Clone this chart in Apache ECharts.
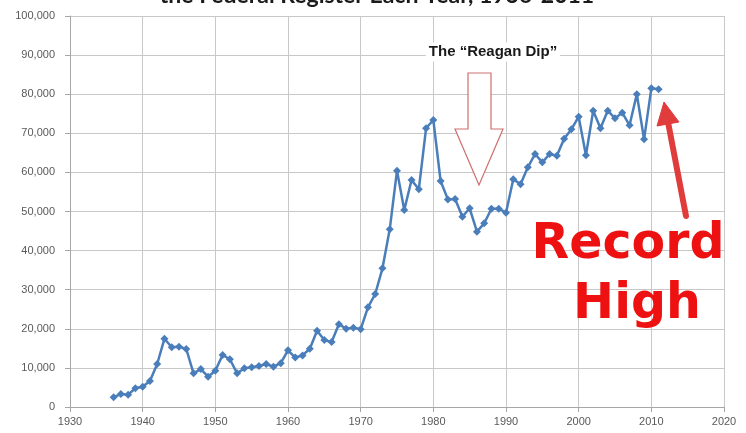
<!DOCTYPE html>
<html>
<head>
<meta charset="utf-8">
<script src="https://cdn.jsdelivr.net/npm/echarts@6/dist/echarts.min.js"></script>
<style>
  html, body { margin: 0; padding: 0; background: #ffffff; }
  #chart { width: 746px; height: 433px; }
</style>
</head>
<body>
<div id="chart"></div>
<script>
// Federal Register pages per year
const years = [
  1936, 1937, 1938, 1939, 1940, 1941, 1942, 1943, 1944, 1945,
  1946, 1947, 1948, 1949, 1950, 1951, 1952, 1953, 1954, 1955,
  1956, 1957, 1958, 1959, 1960, 1961, 1962, 1963, 1964, 1965,
  1966, 1967, 1968, 1969, 1970, 1971, 1972, 1973, 1974, 1975,
  1976, 1977, 1978, 1979, 1980, 1981, 1982, 1983, 1984, 1985,
  1986, 1987, 1988, 1989, 1990, 1991, 1992, 1993, 1994, 1995,
  1996, 1997, 1998, 1999, 2000, 2001, 2002, 2003, 2004, 2005,
  2006, 2007, 2008, 2009, 2010, 2011
];
const pages = [
  2500, 3300, 3150, 4780, 5200, 6650, 11000, 17470, 15270, 15430,
  14830, 8600, 9700, 7750, 9280, 13300, 12200, 8600, 9900, 10150,
  10500, 11000, 10300, 11200, 14500, 12650, 13200, 14900, 19500, 17150,
  16600, 21150, 20030, 20300, 19870, 25500, 28900, 35470, 45450, 60440,
  50380, 58060, 55670, 71280, 73400, 57800, 53100, 53200, 48670, 50820,
  44840, 46980, 50720, 50720, 49700, 58240, 57000, 61300, 64700, 62580,
  64700, 64270, 68620, 71020, 74250, 64370, 75780, 71280, 75780, 73830,
  75270, 72040, 79970, 68460, 81500, 81250
];
const titleText = 'the Federal Register Each Year, 1936-2011';
const dipLabel = 'The \u201cReagan Dip\u201d';
const recordLines = ['Record', 'High'];

const chart = echarts.init(document.getElementById('chart'));

const option = {
  backgroundColor: '#ffffff',
  animation: false,
  grid: { left: 70, right: 22, top: 16, bottom: 26, containLabel: false },
  xAxis: {
    type: 'value',
    min: 1930, max: 2020, interval: 10,
    axisLine: { show: true, lineStyle: { color: '#a6a6a6', width: 1 } },
    axisTick: { show: true, length: 5, lineStyle: { color: '#a6a6a6' } },
    axisLabel: { color: '#595959', fontFamily: 'Liberation Sans', fontSize: 11, margin: 9, formatter: v => String(v) },
    splitLine: { show: true, lineStyle: { color: '#c8c8c8', width: 1 } }
  },
  yAxis: {
    type: 'value',
    min: 0, max: 100000, interval: 10000,
    axisLine: { show: true, lineStyle: { color: '#a6a6a6', width: 1 } },
    axisTick: { show: true, length: 5, lineStyle: { color: '#a6a6a6' } },
    axisLabel: {
      color: '#595959', fontFamily: 'Liberation Sans', fontSize: 11, margin: 15,
      formatter: v => v.toLocaleString('en-US')
    },
    splitLine: { show: true, lineStyle: { color: '#c8c8c8', width: 1 } }
  },
  series: [{
    type: 'line',
    data: years.map((y, i) => [y, pages[i]]),
    symbol: 'diamond',
    symbolSize: 8,
    showAllSymbol: true,
    lineStyle: { color: '#4a7ebb', width: 2.5 },
    itemStyle: { color: '#4a7ebb' },
    z: 5
  }],
  graphic: [
    {
      type: 'text', x: 377, y: 7,
      style: { text: titleText, font: 'bold 23px Lato', fill: '#1a1a1a', align: 'center', verticalAlign: 'bottom' },
      z: 10
    },
    {
      type: 'text', x: 493, y: 52,
      style: {
        text: dipLabel, font: 'bold 15px "Liberation Sans"', fill: '#1a1a1a',
        align: 'center', verticalAlign: 'middle',
        backgroundColor: '#ffffff', padding: [2, 3]
      },
      z: 10
    },
    {
      type: 'polygon',
      shape: { points: [[468, 73], [491, 73], [491, 129], [503, 129], [479, 185], [455, 129], [468, 129]] },
      style: { fill: '#ffffff', stroke: '#cf6f6f', lineWidth: 1.2 },
      z: 3
    },
    {
      type: 'line',
      shape: { x1: 686, y1: 216, x2: 668, y2: 122 },
      style: { stroke: '#e03c3c', lineWidth: 6, lineCap: 'round' },
      z: 10
    },
    {
      type: 'polygon',
      shape: { points: [[664, 102], [679, 122], [657, 126]] },
      style: { fill: '#e03c3c', stroke: '#e03c3c', lineWidth: 1, lineJoin: 'round' },
      z: 10
    },
    {
      type: 'text', x: 628, y: 245,
      style: { text: recordLines[0], font: 'bold 49px "DejaVu Sans"', fill: '#ee1111', align: 'center', verticalAlign: 'middle' },
      z: 10
    },
    {
      type: 'text', x: 637, y: 305,
      style: { text: recordLines[1], font: 'bold 49px "DejaVu Sans"', fill: '#ee1111', align: 'center', verticalAlign: 'middle' },
      z: 10
    }
  ]
};
chart.setOption(option);
</script>
</body>
</html>
